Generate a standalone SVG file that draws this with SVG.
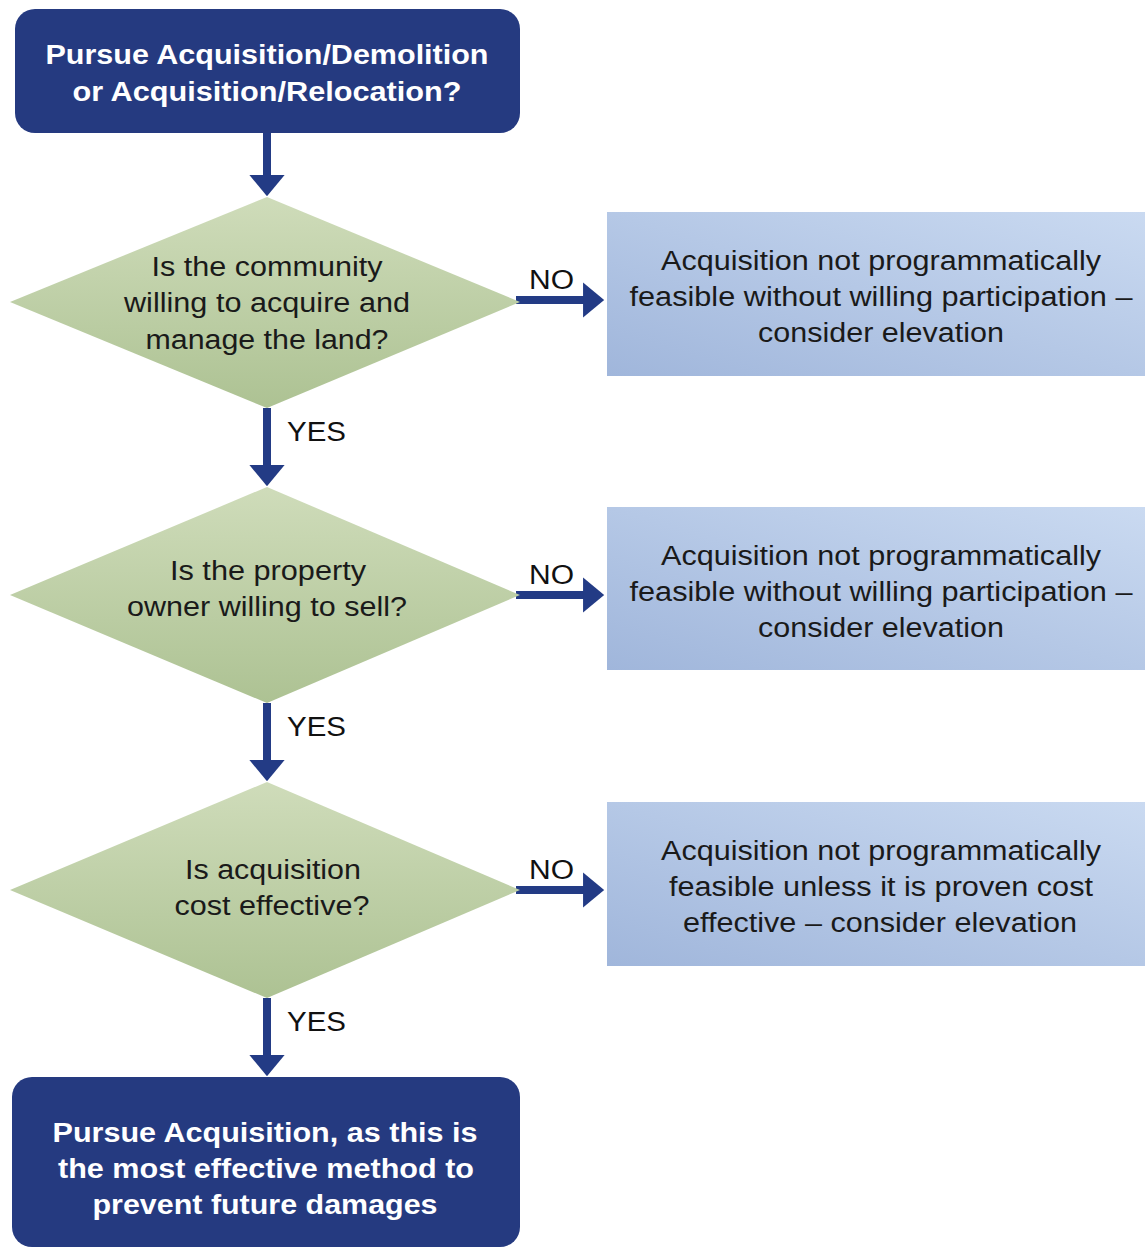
<svg xmlns="http://www.w3.org/2000/svg" width="1145" height="1249" viewBox="0 0 1145 1249">
<defs>
<linearGradient id="gd" x1="0" y1="0" x2="0" y2="1">
<stop offset="0" stop-color="#cfdcba"/>
<stop offset="1" stop-color="#adc293"/>
</linearGradient>
<linearGradient id="gb" x1="0" y1="1" x2="1" y2="0">
<stop offset="0" stop-color="#a0b6db"/>
<stop offset="1" stop-color="#cadaf1"/>
</linearGradient>
<marker id="ah" viewBox="0 0 6 10" refX="0.55" refY="5" markerWidth="2.75" markerHeight="4.4" markerUnits="strokeWidth" orient="auto">
<path d="M0,0 L6,5 L0,10 Z" fill="#233b85"/>
</marker>
</defs>
<style>
.term{fill:#253a80;}
.termt{fill:#ffffff;font-family:"Liberation Sans",Arial,sans-serif;font-weight:bold;font-size:27px;text-anchor:middle;}
.dia{fill:url(#gd);}
.side{fill:url(#gb);}
.t{fill:#1a1a1a;font-family:"Liberation Sans",Arial,sans-serif;font-size:27px;text-anchor:middle;}
.lbl{fill:#111111;font-family:"Liberation Sans",Arial,sans-serif;font-size:27px;}
.con{stroke:#233b85;stroke-width:8;fill:none;marker-end:url(#ah);}
</style>
<rect width="1145" height="1249" fill="#ffffff"/>
<g id="connectors">
<line class="con" x1="267" y1="133" x2="267" y2="177"/>
<line class="con" x1="267" y1="408" x2="267" y2="467"/>
<line class="con" x1="267" y1="703" x2="267" y2="762"/>
<line class="con" x1="267" y1="998" x2="267" y2="1057"/>
<line class="con" x1="516" y1="300" x2="585" y2="300"/>
<line class="con" x1="516" y1="595" x2="585" y2="595"/>
<line class="con" x1="516" y1="890" x2="585" y2="890"/>
<text class="lbl" x="287" y="441" textLength="59" lengthAdjust="spacingAndGlyphs">YES</text>
<text class="lbl" x="287" y="736" textLength="59" lengthAdjust="spacingAndGlyphs">YES</text>
<text class="lbl" x="287" y="1031" textLength="59" lengthAdjust="spacingAndGlyphs">YES</text>
<text class="lbl" x="529" y="289" textLength="45" lengthAdjust="spacingAndGlyphs">NO</text>
<text class="lbl" x="529" y="584" textLength="45" lengthAdjust="spacingAndGlyphs">NO</text>
<text class="lbl" x="529" y="879" textLength="45" lengthAdjust="spacingAndGlyphs">NO</text>
</g>
<g id="start">
<rect class="term" x="15" y="9" width="505" height="124" rx="20"/>
<text class="termt" x="267" y="64" textLength="443" lengthAdjust="spacingAndGlyphs">Pursue Acquisition/Demolition</text>
<text class="termt" x="267" y="101" textLength="389" lengthAdjust="spacingAndGlyphs">or Acquisition/Relocation?</text>
</g>
<g id="q1">
<polygon class="dia" points="267,197 520,302 267,408 10,302"/>
<text class="t" x="267" y="276" textLength="231" lengthAdjust="spacingAndGlyphs">Is the community</text>
<text class="t" x="267" y="312" textLength="286" lengthAdjust="spacingAndGlyphs">willing to acquire and</text>
<text class="t" x="267" y="349" textLength="243" lengthAdjust="spacingAndGlyphs">manage the land?</text>
</g>
<g id="no1">
<rect class="side" x="607" y="212" width="540" height="164"/>
<text class="t" x="881" y="270" textLength="440" lengthAdjust="spacingAndGlyphs">Acquisition not programmatically</text>
<text class="t" x="881" y="306" textLength="503" lengthAdjust="spacingAndGlyphs">feasible without willing participation –</text>
<text class="t" x="881" y="342" textLength="246" lengthAdjust="spacingAndGlyphs">consider elevation</text>
</g>
<g id="q2">
<polygon class="dia" points="267,487 520,595 267,703 10,595"/>
<text class="t" x="268" y="580" textLength="196" lengthAdjust="spacingAndGlyphs">Is the property</text>
<text class="t" x="267" y="616" textLength="280" lengthAdjust="spacingAndGlyphs">owner willing to sell?</text>
</g>
<g id="no2">
<rect class="side" x="607" y="507" width="540" height="163"/>
<text class="t" x="881" y="565" textLength="440" lengthAdjust="spacingAndGlyphs">Acquisition not programmatically</text>
<text class="t" x="881" y="601" textLength="503" lengthAdjust="spacingAndGlyphs">feasible without willing participation –</text>
<text class="t" x="881" y="637" textLength="246" lengthAdjust="spacingAndGlyphs">consider elevation</text>
</g>
<g id="q3">
<polygon class="dia" points="267,782 520,890 267,998 10,890"/>
<text class="t" x="273" y="879" textLength="176" lengthAdjust="spacingAndGlyphs">Is acquisition</text>
<text class="t" x="272" y="915" textLength="195" lengthAdjust="spacingAndGlyphs">cost effective?</text>
</g>
<g id="no3">
<rect class="side" x="607" y="802" width="540" height="164"/>
<text class="t" x="881" y="860" textLength="440" lengthAdjust="spacingAndGlyphs">Acquisition not programmatically</text>
<text class="t" x="881" y="896" textLength="424" lengthAdjust="spacingAndGlyphs">feasible unless it is proven cost</text>
<text class="t" x="880" y="932" textLength="394" lengthAdjust="spacingAndGlyphs">effective – consider elevation</text>
</g>
<g id="end">
<rect class="term" x="12" y="1077" width="508" height="170" rx="20"/>
<text class="termt" x="265" y="1142" textLength="425" lengthAdjust="spacingAndGlyphs">Pursue Acquisition, as this is</text>
<text class="termt" x="266" y="1178" textLength="416" lengthAdjust="spacingAndGlyphs">the most effective method to</text>
<text class="termt" x="265" y="1214" textLength="345" lengthAdjust="spacingAndGlyphs">prevent future damages</text>
</g>
</svg>
